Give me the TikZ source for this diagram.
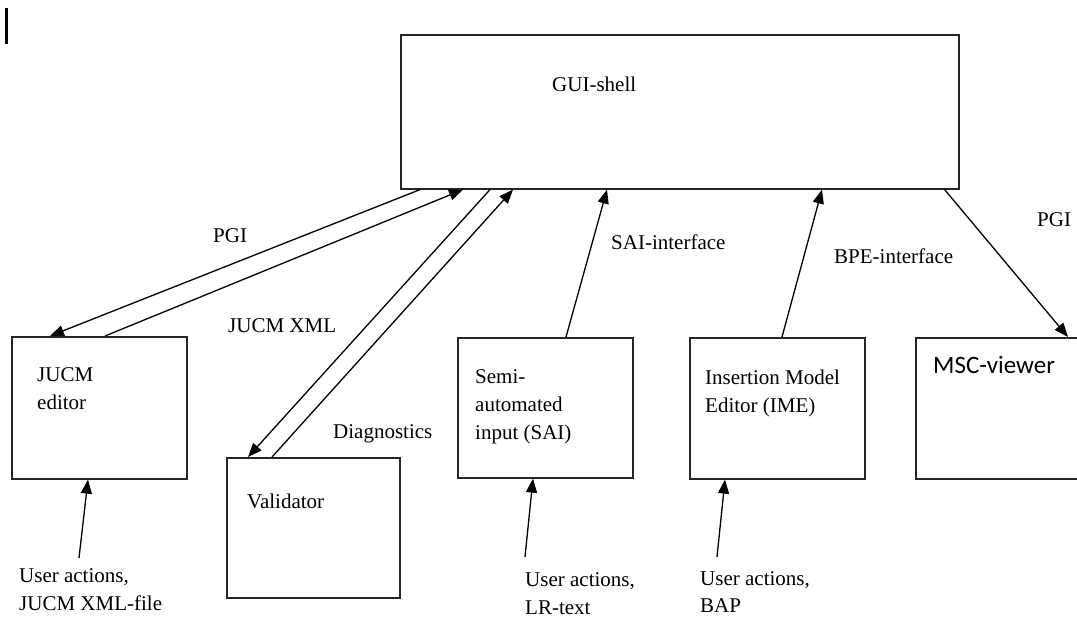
\documentclass[tikz,border=0pt]{standalone}
\usepackage{fontspec}
\setmainfont{Liberation Serif}
\newfontfamily\calib{Carlito}
\usetikzlibrary{arrows.meta,calc}
\newcommand{\mlines}[1]{\begin{tabular}[t]{@{}l@{}}#1\end{tabular}}
\tikzset{
  box/.style={draw=black!85, line width=1.6pt, inner sep=0pt, anchor=north west},
  lbl/.style={anchor=base west, inner sep=0pt, font=\fontsize{21}{28}\selectfont},
  conn/.style={line width=1.3pt, -{Triangle[length=14pt,width=11pt]}},
}
\begin{document}
\begin{tikzpicture}[x=1pt,y=-1pt]
\clip (0,0) rectangle (1077,619);
\fill[white] (0,0) rectangle (1077,619);
% stray cursor mark
\draw[line width=3pt] (6,8) -- (6,44);
% boxes
\node[box, minimum width=558pt, minimum height=154pt] (gui) at (400,34) {};
\node[box, minimum width=175pt, minimum height=142pt] (jucm) at (11,336) {};
\node[box, minimum width=173pt, minimum height=140pt] (val) at (226,457) {};
\node[box, minimum width=175pt, minimum height=140pt] (sai) at (457,337) {};
\node[box, minimum width=175pt, minimum height=141pt] (ime) at (689,337) {};
\node[box, minimum width=200pt, minimum height=141pt] (msc) at (915,337) {};
% box texts
\node[lbl] (tgui) at (552,91) {GUI-shell};
\node[lbl] (tjucm) at (37,381) {\mlines{JUCM\\editor}};
\node[lbl] (tval) at (247,508) {Validator};
\node[lbl] (tsai) at (475,383) {\mlines{Semi-\\automated\\input (SAI)}};
\node[lbl] (time) at (705,384) {\mlines{Insertion Model\\Editor (IME)}};
\node[lbl, font=\calib\fontsize{25}{30}\selectfont] (tmsc) at (933,373) {MSC-viewer};
% connector labels
\node[lbl] (lpgi1) at (213,242) {PGI};
\node[lbl] (lxml) at (228,332) {JUCM XML};
\node[lbl] (ldiag) at (333,438) {Diagnostics};
\node[lbl] (lsai) at (611,249) {SAI-interface};
\node[lbl] (lbpe) at (834,263) {BPE-interface};
\node[lbl] (lpgi2) at (1037,226) {PGI};
\node[lbl] (u1) at (19,582) {\mlines{User actions,\\JUCM XML-file}};
\node[lbl] (u2) at (525,586) {\mlines{User actions,\\LR-text}};
\node[lbl] (u3) at (700,585) {\vtop{\baselineskip=27pt\hbox{User actions,}\hbox{BAP}}};
% connectors
\draw[conn] ($(gui.south west)+(20,0)$) -- ($(jucm.north west)+(39,0)$);
\draw[conn] ($(jucm.north west)+(94,0)$) -- ($(gui.south west)+(63,0)$);
\draw[conn] ($(gui.south west)+(90,0)$) -- ($(val.north west)+(22,0)$);
\draw[conn] ($(val.north west)+(46,0)$) -- ($(gui.south west)+(113,0)$);
\draw[conn] ($(sai.north west)+(109,0)$) -- ($(gui.south west)+(207,0)$);
\draw[conn] ($(ime.north west)+(93,0)$) -- ($(gui.south west)+(422,0)$);
\draw[conn] ($(gui.south east)+(-15,0)$) -- ($(msc.north west)+(153,0)$);
\coordinate (s1) at (79,558);
\coordinate (s2) at (525,557);
\coordinate (s3) at (717,557);
\draw[conn] (s1) -- ($(jucm.south west)+(77,0)$);
\draw[conn] (s2) -- ($(sai.south west)+(76,0)$);
\draw[conn] (s3) -- ($(ime.south west)+(36,0)$);
\end{tikzpicture}
\end{document}
